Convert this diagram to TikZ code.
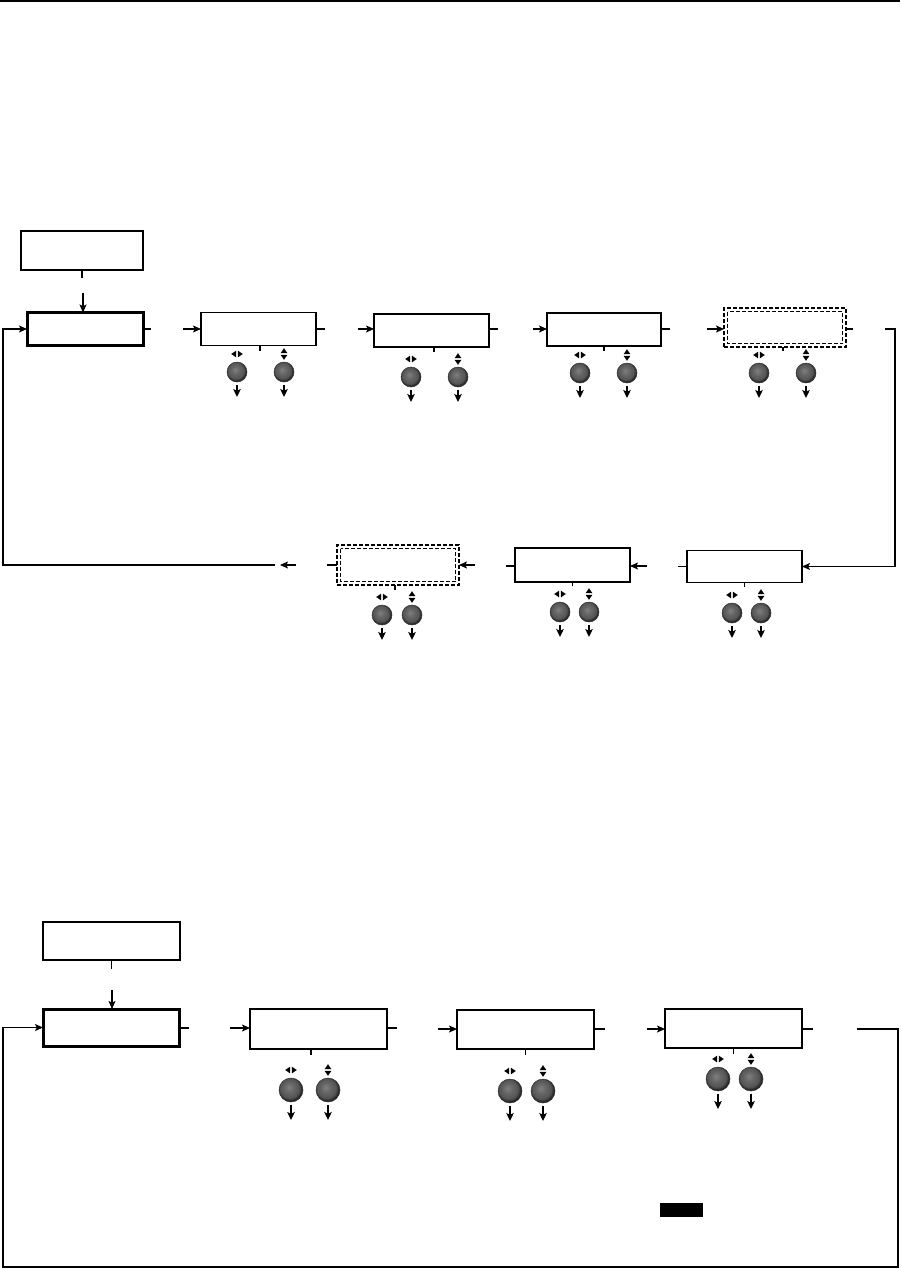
\documentclass[tikz,border=0pt]{standalone}
\usetikzlibrary{arrows.meta,calc}
\pgfdeclareradialshading{knobshade}{\pgfpoint{-5bp}{6bp}}{color(0bp)=(black!50); color(10bp)=(black!60); color(20bp)=(black!67); color(24bp)=(black!82); color(27bp)=(black!88); color(50bp)=(black!88)}
\begin{document}
\begin{tikzpicture}[x=1pt,y=-1pt,
  box/.style={draw, line width=1.6pt, rectangle, inner sep=0pt, outer sep=0pt},
  thickbox/.style={draw, line width=3pt, rectangle, inner sep=0pt, outer sep=0pt},
  dbox/.style={draw, line width=1.5pt, dash pattern=on 4pt off 2pt, rectangle, inner sep=0pt, outer sep=0pt},
  dline/.style={line width=1.5pt, dash pattern=on 4pt off 2pt},
  knob/.style={circle, shading=knobshade, draw=black!80, line width=0.5pt, minimum size=#1, inner sep=0pt, outer sep=0pt},
  arr/.style={-{Stealth[length=8pt,width=7pt,inset=1.8pt]}, line width=1.2pt},
  karr/.style={-{Stealth[length=8pt,width=7.5pt,inset=1.8pt]}, line width=1.7pt},
  ln/.style={line width=1.1pt},
  tick/.style={line width=1.4pt},
  lrsym/.pic={\fill (-0.8,-3.4) -- (-0.8,3.4) -- (-5.8,0) -- cycle; \fill (0.8,-3.4) -- (0.8,3.4) -- (5.8,0) -- cycle;},
  udsym/.pic={\fill (-3.4,-0.8) -- (3.4,-0.8) -- (0,-5.8) -- cycle; \fill (-3.4,0.8) -- (3.4,0.8) -- (0,5.8) -- cycle;}
]
\useasboundingbox (0,0) rectangle (900,1269);
\newcommand\knobset[6]{%
  \node[knob=#5] (#1l) at (#2,#4) {};
  \node[knob=#5] (#1r) at (#3,#4) {};
  \pic at ($(#1l.north)+(0,-8)$) {lrsym};
  \pic at ($(#1r.north)+(0,-8)$) {udsym};
  \draw[karr] ($(#1l.south)+(0,3)$) -- ++(0,#6);
  \draw[karr] ($(#1r.south)+(0,3)$) -- ++(0,#6);
}
% top rule
\draw[line width=2.5pt] (0,1) -- (900,1);

% ===== top section =====
\node[box, minimum width=122pt, minimum height=39pt] (t0) at (82,250.5) {};
\node[thickbox, minimum width=116pt, minimum height=33pt] (t1) at (85,329) {};
\node[box, minimum width=115pt, minimum height=33pt] (t2) at (258.5,329) {};
\node[box, minimum width=115pt, minimum height=33pt] (t3) at (431.5,330.5) {};
\node[box, minimum width=114pt, minimum height=33pt] (t4) at (604,329.5) {};
\node[dbox, minimum width=122pt, minimum height=39pt] (t5) at (785,327.5) {};
\draw[dline] ($(t5.north west)+(3.5,3.5)$) rectangle ($(t5.south east)+(-3.5,-3.5)$);

\node[box, minimum width=115pt, minimum height=32pt] (u1) at (744.5,566.5) {};
\node[box, minimum width=115pt, minimum height=34pt] (u2) at (572.5,565) {};
\node[dbox, minimum width=122pt, minimum height=40pt] (u3) at (398,565) {};
\draw[dline] ($(u3.north west)+(3.5,3.5)$) rectangle ($(u3.south east)+(-3.5,-3.5)$);

% connectors top row
\draw[tick] (t0.south) -- ++(0,8);
\draw[arr] ($(t1.north)+(-2,-20)$) -- ($(t1.north)+(-2,0)$);
\draw[line width=2pt] (t1.east) -- ++(8,0);
\draw[arr] ($(t2.west)+(-18,0)$) -- (t2.west);
\draw[ln] (t2.east) -- ++(9,0);
\draw[arr] ($(t3.west)+(-16,-1.5)$) -- ($(t3.west)+(0,-1.5)$);
\draw[ln] ($(t3.east)+(0,-1.5)$) -- ++(9,0);
\draw[arr] ($(t4.west)+(-14,-0.5)$) -- ($(t4.west)+(0,-0.5)$);
\draw[ln] ($(t4.east)+(0,-0.5)$) -- ++(9,0);
\draw[arr] ($(t5.west)+(-17,1.5)$) -- ($(t5.west)+(0,1.5)$);
\draw[line width=1.8pt] ($(t5.east)+(0,1.5)$) -- ++(7,0);
\coordinate (rc1) at (885,329);
\coordinate (rc2) at (895,329);
\draw[arr] (rc1) -- (rc2) -- (rc2 |- u1.east) -- (u1.east);
\draw[ln] (u1.west) -- ++(-9,0);
\draw[arr] ($(u2.east)+(17,1)$) -- ($(u2.east)+(0,1)$);
\draw[ln] ($(u2.west)+(0,1)$) -- ++(-9,0);
\draw[arr] ($(u3.east)+(16,0)$) -- (u3.east);
\draw[ln] (u3.west) -- ++(-10,0);
\draw[arr] ($(u3.west)+(-41,0)$) -- ++(-16,0);
\coordinate (lc1) at (275,565);
\coordinate (lc2) at (3,565);
\draw[arr] (lc1) -- (lc2) -- (lc2 |- t1.west) -- (t1.west);

% ticks under boxes
\draw[tick] ($(t2.south)+(1.5,0)$) -- ++(0,5);
\draw[tick] ($(t3.south)+(2.5,0)$) -- ++(0,5);
\draw[tick] (t4.south) -- ++(0,5);
\draw[tick] ($(t5.south)+(-2,0)$) -- ++(0,4);
\draw[tick] (u1.south) -- ++(0,4);
\draw[tick] (u2.south) -- ++(0,4);
\draw[tick] ($(u3.south)+(-3,0)$) -- ++(0,5);

% knobs top
\knobset{k2}{237}{284}{372}{20pt}{12}
\knobset{k3}{411}{458}{377}{20pt}{12}
\knobset{k4}{580}{627}{373}{20pt}{12}
\knobset{k5}{759}{806}{373}{20pt}{12}
\knobset{m1}{732}{761}{613}{20pt}{12}
\knobset{m2}{560}{589}{612}{20pt}{12}
\knobset{m3}{382}{412}{615}{20pt}{12}

% ===== bottom section =====
\node[box, minimum width=137pt, minimum height=38pt] (b0) at (111.5,941) {};
\node[thickbox, minimum width=136pt, minimum height=37pt] (b1) at (111,1027.5) {};
\node[box, minimum width=137pt, minimum height=40pt] (b2) at (318.5,1029) {};
\node[box, minimum width=137pt, minimum height=39pt] (b3) at (525.5,1029.5) {};
\node[box, minimum width=137pt, minimum height=39pt] (b4) at (733.5,1028.5) {};

\draw[tick] (b0.south) -- ++(0,9);
\draw[arr] ($(b1.north)+(1,-19)$) -- ($(b1.north)+(1,0)$);
\draw[line width=2pt] (b1.east) -- ++(10,0);
\draw[arr] ($(b2.west)+(-20,-1)$) -- ($(b2.west)+(0,-1)$);
\draw[ln] ($(b2.east)+(0,-1)$) -- ++(10,0);
\draw[arr] ($(b3.west)+(-19,-0.5)$) -- ($(b3.west)+(0,-0.5)$);
\draw[line width=1.6pt] ($(b3.east)+(0,-0.5)$) -- ++(11,0);
\draw[arr] ($(b4.west)+(-18,0.5)$) -- ($(b4.west)+(0,0.5)$);
\draw[line width=1.6pt] ($(b4.east)+(0,0.5)$) -- ++(11,0);
\coordinate (bc1) at (857,1029);
\coordinate (bc2) at (898,1029);
\coordinate (bc3) at (898,1267);
\coordinate (bc4) at (3,1267);
\draw[arr, line width=1.5pt] (bc1) -- (bc2) -- (bc3) -- (bc4) -- (bc4 |- b1.west) -- (b1.west);

\draw[tick] ($(b2.south)+(-7.5,0)$) -- ++(0,6);
\draw[tick] (b3.south) -- ++(0,6);
\draw[tick] (b4.south) -- ++(0,6);

\knobset{n2}{291}{328}{1090}{24pt}{15}
\knobset{n3}{510}{543}{1091}{24pt}{15}
\knobset{n4}{718}{751}{1079}{24pt}{15}

\node[fill=black, minimum width=43pt, minimum height=14pt, inner sep=0pt] (blk) at (681.5,1210) {};
\end{tikzpicture}
\end{document}
